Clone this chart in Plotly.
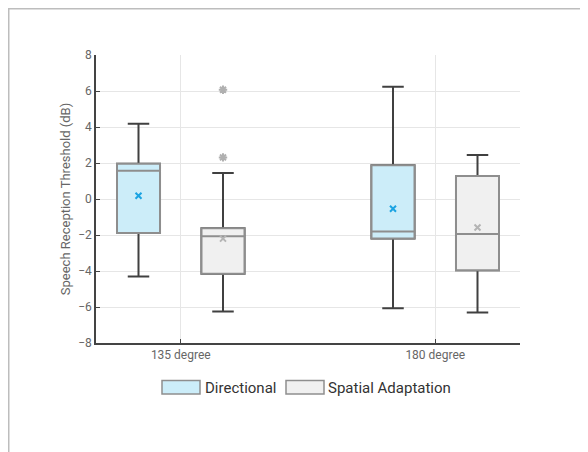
import plotly.graph_objects as go
import numpy as np

# ---------------- data ----------------
CATEGORIES = ["135 degree", "180 degree"]

DIR_Q1 = [-1.89, -2.19]
DIR_MEDIAN = [1.57, -1.80]
DIR_Q3 = [1.96, 1.87]
DIR_LOW = [-4.31, -6.07]
DIR_HIGH = [4.18, 6.23]
DIR_MEAN = [0.18, -0.54]

SA_Q1 = [-4.15, -3.96]
SA_MEDIAN = [-2.07, -1.94]
SA_Q3 = [-1.63, 1.28]
SA_LOW = [-6.25, -6.31]
SA_HIGH = [1.44, 2.44]
SA_MEAN = [-2.20, -1.58]

SA_OUTLIER_CAT = ["135 degree", "135 degree"]
SA_OUTLIER_Y = [6.07, 2.31]

Y_TICKS = [-8, -6, -4, -2, 0, 2, 4, 6, 8]

# ---------------- style ----------------
OFFSET = 0.166
BOX_W = 0.169
DIR_FILL = "#ccedf9"
SA_FILL = "#f0f0f0"
BOX_LINE = "#8e8e8e"
WHISKER = "#404040"
DIR_MEAN_C = "#1ba3e2"
SA_MEAN_C = "#b4b4b4"
OUT_C = "#b0b0b0"
FONT = "Roboto"

pos = np.arange(len(CATEGORIES), dtype=float)

fig = go.Figure()


def add_series(name, shift, q1, med, q3, low, high, mean, fill, mean_color):
    x = pos + shift
    # whiskers (dark)
    fig.add_trace(go.Box(
        x=x, q1=q1, median=med, q3=q3, lowerfence=low, upperfence=high,
        width=BOX_W, whiskerwidth=0.5, fillcolor=fill,
        line=dict(color=WHISKER, width=2), boxpoints=False,
        showlegend=False, hoverinfo="skip"))
    # body (grey outline)
    fig.add_trace(go.Box(
        x=x, q1=q1, median=med, q3=q3, lowerfence=q1, upperfence=q3,
        width=BOX_W, whiskerwidth=0, fillcolor=fill,
        line=dict(color=BOX_LINE, width=2), boxpoints=False,
        name=name, showlegend=False))
    # mean markers
    fig.add_trace(go.Scatter(
        x=x, y=mean, mode="markers",
        marker=dict(symbol="x-thin-open", size=6, color=mean_color,
                    line=dict(color=mean_color, width=2)),
        showlegend=False, hoverinfo="skip"))


add_series("Directional", -OFFSET, DIR_Q1, DIR_MEDIAN, DIR_Q3, DIR_LOW, DIR_HIGH,
           DIR_MEAN, DIR_FILL, DIR_MEAN_C)
add_series("Spatial Adaptation", OFFSET, SA_Q1, SA_MEDIAN, SA_Q3, SA_LOW, SA_HIGH,
           SA_MEAN, SA_FILL, SA_MEAN_C)

# outliers
out_x = [CATEGORIES.index(c) + OFFSET for c in SA_OUTLIER_CAT]
fig.add_trace(go.Scatter(
    x=out_x, y=SA_OUTLIER_Y, mode="markers",
    marker=dict(symbol="asterisk-open", size=7, color=OUT_C,
                line=dict(color=OUT_C, width=2)),
    showlegend=False, hoverinfo="skip"))

# ---------------- layout ----------------
SHIFT = 8  # page body margin
W, H = 588, 452
L, T = 96 - SHIFT, 55 - SHIFT
pw, ph = 424, 288
R = W - L - pw
B = H - T - ph


def px(x):
    return (x - SHIFT - L) / pw


def py(y):
    return (T + ph - (y - SHIFT)) / ph


shapes = [
    # outer frame (only top/left visible)
    dict(type="rect", xref="paper", yref="paper",
         x0=px(8), y0=py(8), x1=px(W + 40), y1=py(H + 40),
         line=dict(color="#bdbdbd", width=3), fillcolor="rgba(0,0,0,0)",
         layer="below"),
    # legend icons
    dict(type="rect", xref="paper", yref="paper",
         x0=px(162), x1=px(200), y0=py(380.5), y1=py(394),
         fillcolor=DIR_FILL, line=dict(color=BOX_LINE, width=1.5)),
    dict(type="rect", xref="paper", yref="paper",
         x0=px(286), x1=px(324), y0=py(380.5), y1=py(394),
         fillcolor=SA_FILL, line=dict(color=BOX_LINE, width=1.5)),
]

annotations = [
    dict(xref="paper", yref="paper", x=px(203), y=py(387.5), text="Directional",
         showarrow=False, xanchor="left", yanchor="middle",
         font=dict(family=FONT, size=15, color="#333333")),
    dict(xref="paper", yref="paper", x=px(326), y=py(387.5), text="Spatial Adaptation",
         showarrow=False, xanchor="left", yanchor="middle",
         font=dict(family=FONT, size=15, color="#333333")),
]

fig.update_layout(
    width=W, height=H,
    margin=dict(l=L, r=R, t=T, b=B),
    paper_bgcolor="white", plot_bgcolor="white",
    font=dict(family=FONT, color="#666666", size=12),
    boxmode="overlay",
    shapes=shapes, annotations=annotations,
    showlegend=False,
)

fig.update_xaxes(
    range=[-0.333, 1.333], tickmode="array", tickvals=pos, ticktext=CATEGORIES,
    showgrid=True, gridcolor="#e6e6e6", gridwidth=1, zeroline=False,
    showline=True, linecolor="#444444", linewidth=1.5,
    ticks="inside", ticklen=4, tickcolor="#444444",
    tickfont=dict(size=12, color="#666666"),
)
fig.update_yaxes(
    range=[-8, 8], tickmode="array", tickvals=Y_TICKS,
    showgrid=True, gridcolor="#e6e6e6", gridwidth=1, zeroline=False,
    showline=True, linecolor="#444444", linewidth=1.5,
    ticks="inside", ticklen=4, tickcolor="#444444",
    tickfont=dict(size=12, color="#666666"),
    title=dict(text="Speech Reception Threshold (dB)",
               font=dict(size=13, color="#666666"), standoff=5),
)

fig.write_html("out.html")
